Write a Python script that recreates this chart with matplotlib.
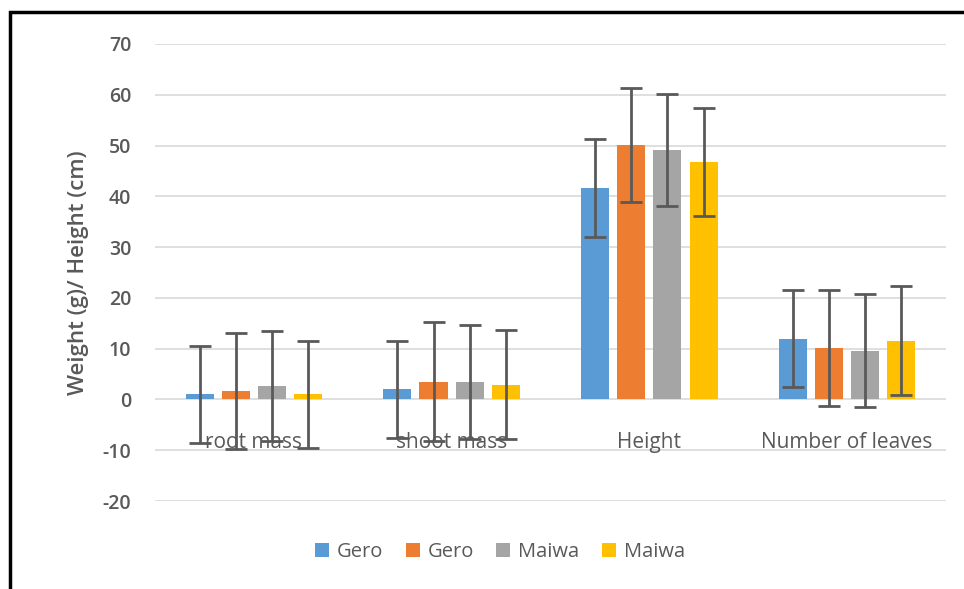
import numpy as np
import matplotlib.pyplot as plt
from matplotlib.patches import Rectangle

categories = ['root mass', 'shoot mass', 'Height', 'Number of leaves']
series_names = ['Gero', 'Gero', 'Maiwa', 'Maiwa']
colors = ['#5B9BD5', '#ED7D31', '#A5A5A5', '#FFC000']

gero1 = [1.0, 2.0, 41.6, 12.0]
gero2 = [1.6, 3.5, 50.1, 10.2]
maiwa1 = [2.6, 3.5, 49.1, 9.6]
maiwa2 = [1.0, 2.9, 46.8, 11.6]

gero1_err = [9.5, 9.6, 9.7, 9.6]
gero2_err = [11.4, 11.7, 11.3, 11.4]
maiwa1_err = [10.8, 11.2, 11.0, 11.1]
maiwa2_err = [10.5, 10.7, 10.6, 10.7]

values = [gero1, gero2, maiwa1, maiwa2]
errors = [gero1_err, gero2_err, maiwa1_err, maiwa2_err]

yticks = list(range(-20, 71, 10))

plt.rcParams['font.family'] = ['Open Sans', 'DejaVu Sans']
txt = '#595959'

fig = plt.figure(figsize=(9.64, 5.89), dpi=100)
ax = fig.add_axes([0.1608, 0.1494, 0.8205, 0.7759])

x = np.arange(len(categories))
width = 0.142
pitch = 0.183
for i in range(4):
    xs = x + (i - 1.5) * pitch
    ax.bar(xs, values[i], width, color=colors[i], label=series_names[i], zorder=2)
    ax.errorbar(xs, values[i], yerr=errors[i], fmt='none', ecolor='#595959',
                elinewidth=2, capsize=8, capthick=2, zorder=3)

ax.set_xlim(-0.5, 3.5)
ax.set_ylim(-20, 70)
ax.set_yticks(yticks)
ax.set_yticklabels([str(v) for v in yticks], fontsize=14, color=txt, fontweight='semibold')
ax.tick_params(axis='y', length=0, pad=17)
ax.set_xticks([])
ax.grid(axis='y', color='#D9D9D9', linewidth=1.2, zorder=0)
for s in ax.spines.values():
    s.set_visible(False)

for xi, c in zip(x, categories):
    ax.text(xi, -8.4, c, ha='center', va='center', fontsize=15, color=txt, zorder=4)

ax.set_ylabel('Weight (g)/ Height (cm)', fontsize=16, color=txt, labelpad=10,
              fontweight='semibold')

fig.legend(loc='center', bbox_to_anchor=(500 / 964, 1 - 552 / 589), ncol=4,
           frameon=False, fontsize=14.5, handlelength=0.7, handleheight=0.7,
           handletextpad=0.4, columnspacing=1.1, labelcolor=txt)

fig.patches.append(Rectangle((10 / 964, -0.1), 1.2, 1 - 12 / 589 + 0.1,
                             transform=fig.transFigure, fill=False,
                             edgecolor='black', linewidth=2.5))

fig.savefig('out.png', dpi=100)
